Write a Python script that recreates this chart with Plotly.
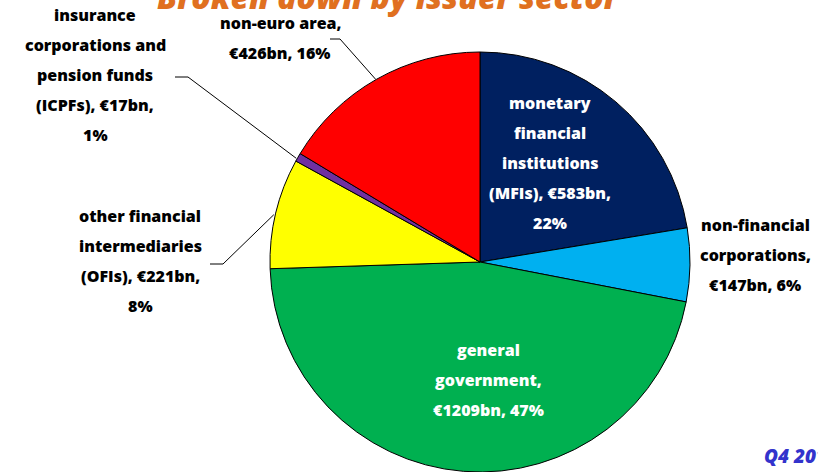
import math
import plotly.graph_objects as go

# ---- data ----
sectors = ["monetary financial institutions (MFIs)", "non-financial corporations",
           "general government", "other financial intermediaries (OFIs)",
           "insurance corporations and pension funds (ICPFs)", "non-euro area"]
values_bn = [583, 147, 1209, 221, 17, 426]
percent_labels = ["22%", "6%", "47%", "8%", "1%", "16%"]
label_lines = [
    ["monetary", "financial", "institutions", "(MFIs), €583bn,", "22%"],
    ["non-financial", "corporations,", "€147bn, 6%"],
    ["general", "government,", "€1209bn, 47%"],
    ["other financial", "intermediaries", "(OFIs), €221bn,", "8%"],
    ["insurance", "corporations and", "pension funds", "(ICPFs), €17bn,", "1%"],
    ["non-euro area,", "€426bn, 16%"],
]
colors = ["#002060", "#00B0F0", "#00B050", "#FFFF00", "#7030A0", "#FF0000"]
text_colors = ["white", "black", "white", "black", "black", "black"]
title_text = "Broken down by issuer sector"
period_text = "Q4 2012"

W, H = 818, 472
CX, CY, R = 480, 264, 212

def px(x):
    return x / W

def py(y):
    return 1 - y / H

fig = go.Figure(go.Pie(
    labels=sectors, values=values_bn, sort=False, direction="clockwise", rotation=0,
    marker=dict(colors=colors, line=dict(color="black", width=1)),
    textinfo="none", hoverinfo="label+value+percent", showlegend=False,
    domain=dict(x=[px(CX - R), px(CX + R)], y=[0, py(CY - R)]),
))

# label block positions (first line centre, pixels)
label_pos = [(550, 103), (755, 225), (488, 350), (140, 216), (95, 15), (280, 23)]
line_gap = 30
font = "'Open Sans', Lato, sans-serif"
for lines, (lx, ly), tc in zip(label_lines, label_pos, text_colors):
    for i, ln in enumerate(lines):
        fig.add_annotation(x=px(lx), y=py(ly + i * line_gap), xref="paper", yref="paper",
                           text=ln, showarrow=False,
                           xanchor="center", yanchor="middle",
                           font=dict(family=font, size=16, color=tc, weight=800))

# leader lines to slice edges (computed from data)
total = sum(values_bn)
cum = [sum(values_bn[:i]) for i in range(len(values_bn))]
def edge_point(i):
    frac = (cum[i] + values_bn[i] / 2) / total
    a = 2 * math.pi * frac
    return CX + R * math.sin(a), CY - R * math.cos(a)

leaders = {3: (210, 264, 223), 4: (175, 77, 188), 5: (330, 39, 340)}
for i, (x0, y0, x1) in leaders.items():
    ex, ey = edge_point(i)
    fig.add_shape(type="path", xref="paper", yref="paper",
                  path=f"M {px(x0)} {py(y0)} L {px(x1)} {py(y0)} L {px(ex)} {py(ey)}",
                  line=dict(color="black", width=1))

fig.add_annotation(x=px(388), y=py(-4), xref="paper", yref="paper",
                   text="<i>" + title_text + "</i>", showarrow=False,
                   xanchor="center", yanchor="middle",
                   font=dict(family=font, size=32, color="#E07020", weight=800))
fig.add_annotation(x=px(762), y=py(456), xref="paper", yref="paper",
                   text="<i>" + period_text + "</i>", showarrow=False,
                   xanchor="left", yanchor="middle",
                   font=dict(family=font, size=19, color="#3333CC", weight=800))

fig.update_layout(width=W, height=H, margin=dict(l=0, r=0, t=0, b=0),
                  paper_bgcolor="white", plot_bgcolor="white")
fig.write_html("out.html", config={"displayModeBar": False},
               post_script="document.body.style.margin='0';")
